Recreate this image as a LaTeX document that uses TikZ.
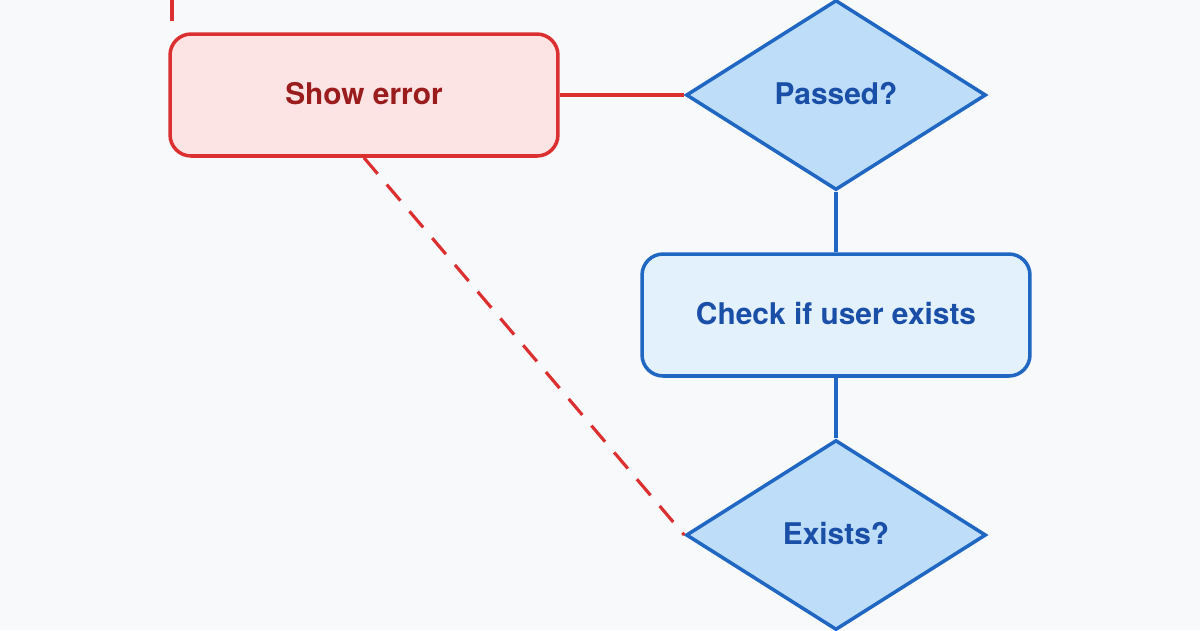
\documentclass[tikz,border=0pt]{standalone}
\usepackage{fontspec}
\setmainfont{TeX Gyre Heros}
\usetikzlibrary{shapes.geometric}
\definecolor{errfill}{HTML}{FDE4E4}
\definecolor{errline}{HTML}{DC2F2F}
\definecolor{errtext}{HTML}{9B1C1C}
\definecolor{stepfill}{HTML}{E3F1FD}
\definecolor{decfill}{HTML}{BEDDF8}
\definecolor{flowline}{HTML}{1F67C2}
\definecolor{flowtext}{HTML}{1A4FA8}
\definecolor{paper}{HTML}{F8F9FB}
\begin{document}
\begin{tikzpicture}[x=0.02cm,y=-0.02cm,
	every node/.style={font=\fontsize{17}{20}\selectfont\bfseries},
	error/.style={rectangle, rounded corners=12pt, draw=errline, fill=errfill, line width=2pt, text=errtext, minimum width=7.76cm, minimum height=2.44cm},
	action/.style={rectangle, rounded corners=12pt, draw=flowline, fill=stepfill, line width=2pt, text=flowtext, minimum width=7.76cm, minimum height=2.44cm},
	decision/.style={diamond, draw=flowline, fill=decfill, line width=2pt, text=flowtext, inner sep=0pt, minimum width=6cm, minimum height=3.8cm},
	flow/.style={draw=flowline, line width=2pt},
	fail/.style={draw=errline, line width=1.8pt}]
	\fill[paper] (0,0) rectangle (1200,630);
	\useasboundingbox (0,0) rectangle (1200,630);
	% nodes
	\node[error] (showerror) at (364,95) {\raisebox{2pt}{Show error}};
	\node[decision] (passed) at (836,95) {\raisebox{2pt}{Passed?}};
	\node[action] (checkuser) at (836,315) {\raisebox{2pt}{Check if user exists}};
	\node[decision] (exists) at (836,535) {\raisebox{2pt}{Exists?}};
	\coordinate (upper) at (172,0);
	% connectors
	\draw[fail, dash pattern=on 12pt off 8pt] (upper) -- (upper |- showerror.north);
	\draw[fail] (showerror.east) -- (passed.west);
	\draw[flow] (passed.south) -- (checkuser.north);
	\draw[flow] (checkuser.south) -- (exists.north);
	\draw[fail, dash pattern=on 12pt off 8pt] (showerror.south) -- (exists.west);
\end{tikzpicture}
\end{document}
